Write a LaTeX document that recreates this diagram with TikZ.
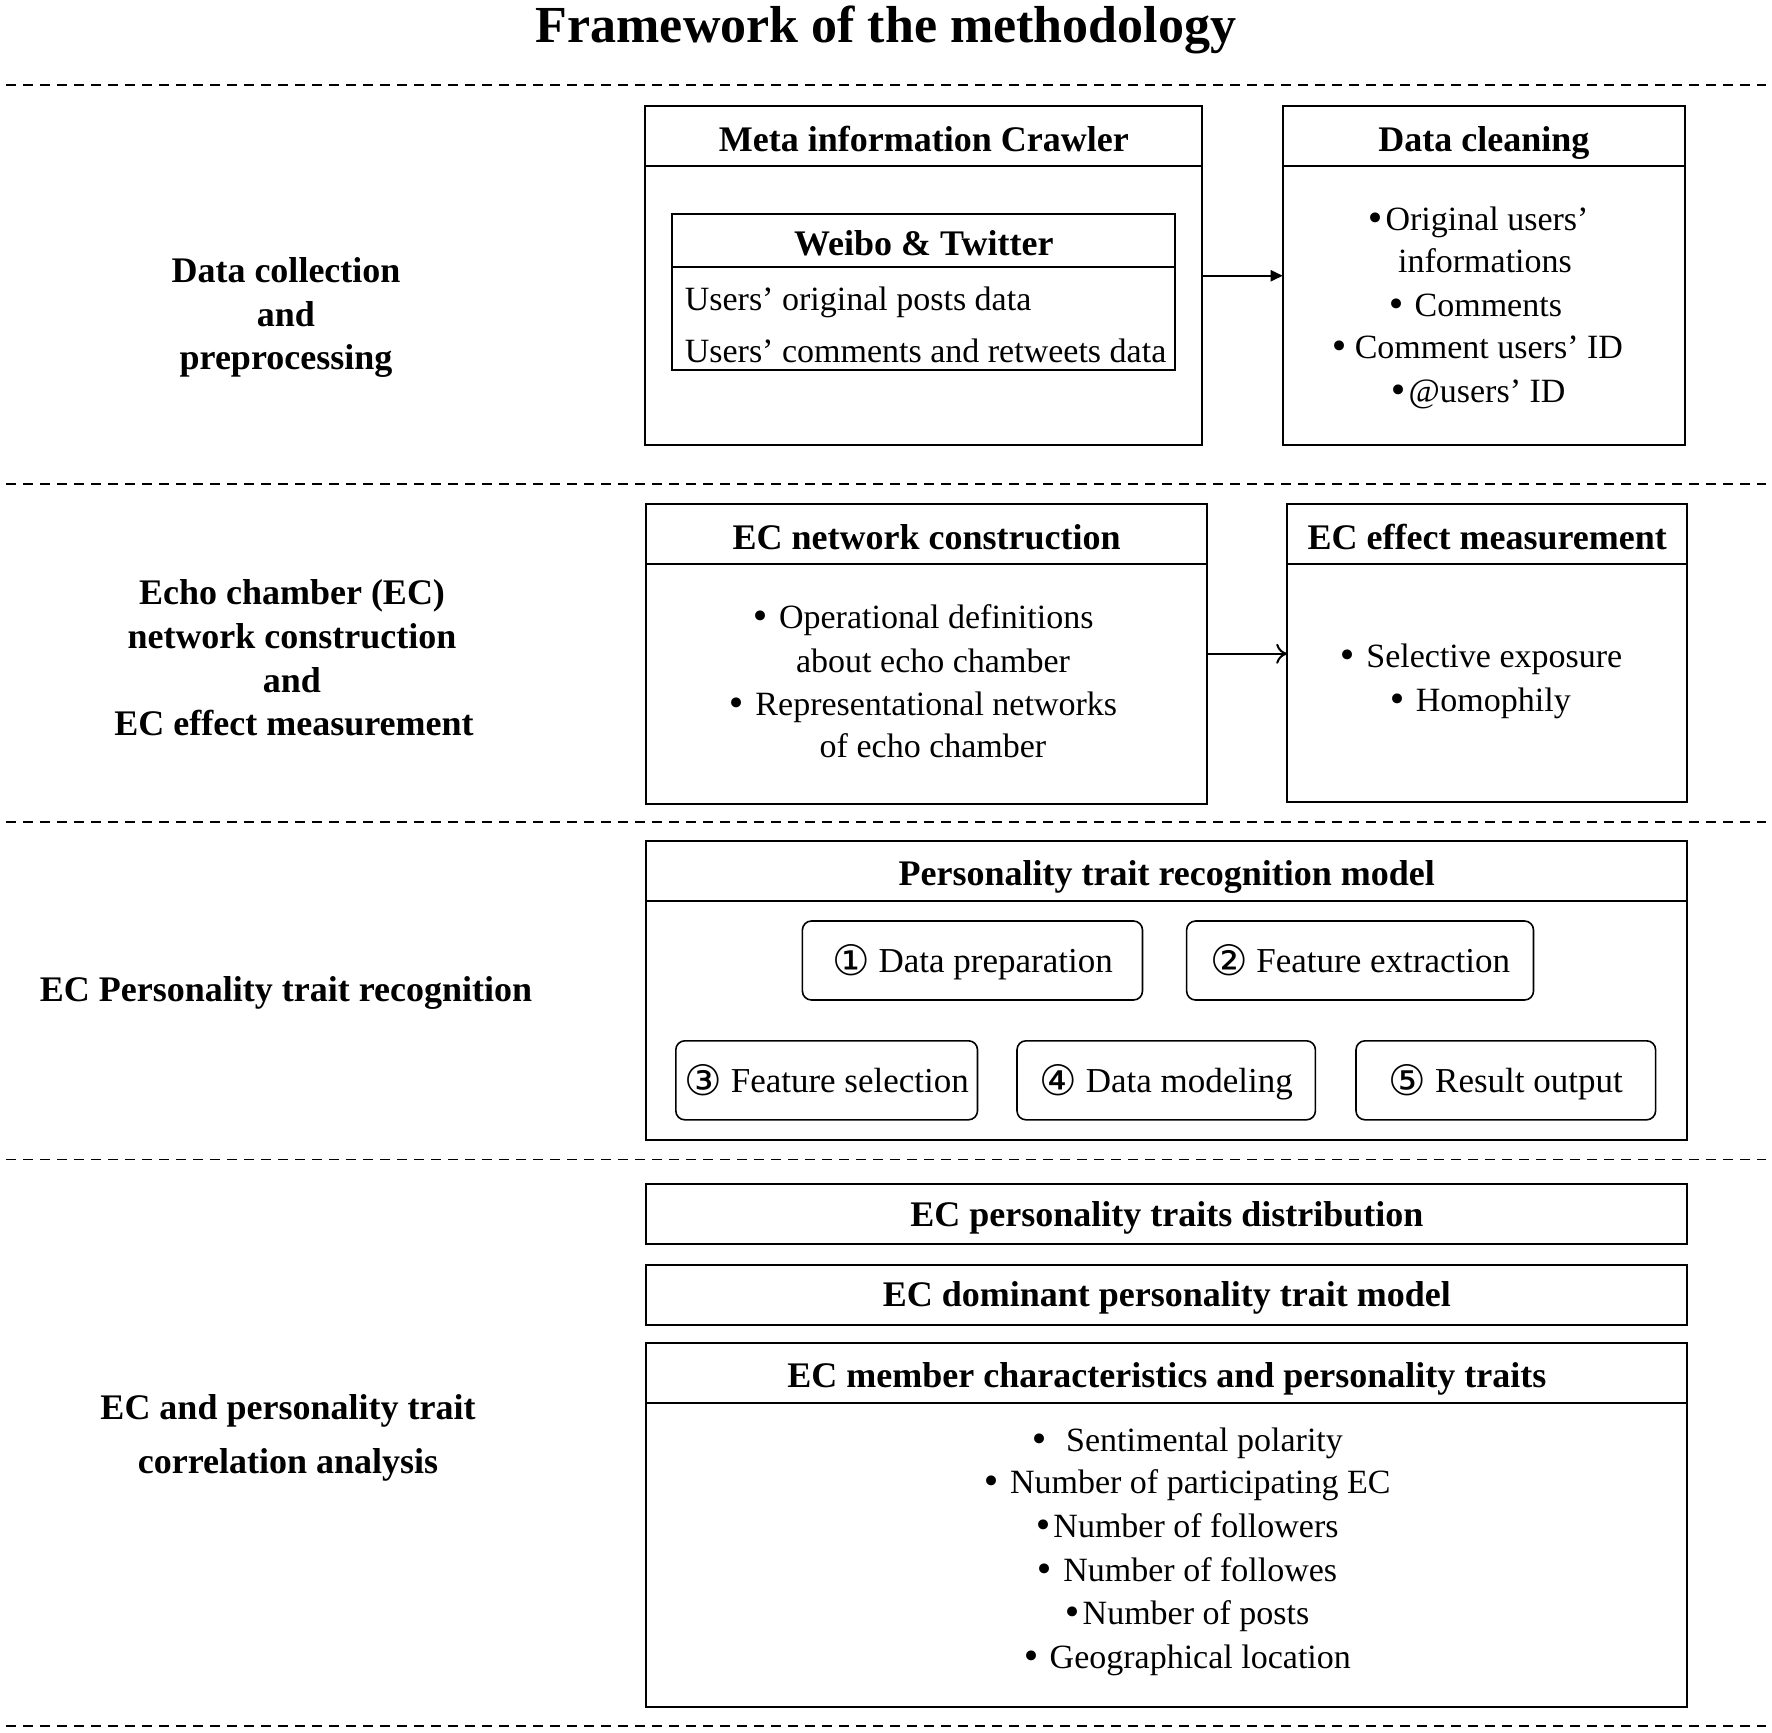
\documentclass[tikz,border=0pt]{standalone}
\usepackage{fontspec}
\setmainfont{Liberation Serif}
\newfontfamily\circfont[Scale=1.2]{DejaVu Sans}
\newfontfamily\bulfont{DejaVu Sans}
\newcommand{\bul}{{\bulfont •}}
\newcommand{\cnum}[1]{\raisebox{-3pt}{\circfont #1}}
\usetikzlibrary{arrows.meta}
\begin{document}
\begin{tikzpicture}[x=1pt,y=-1pt,
  basic/.style={inner sep=0pt, outer sep=0pt, font=\fontsize{34}{40}\selectfont},
  ln/.style={basic, anchor=base},
  lnb/.style={ln, font=\fontsize{36}{42}\selectfont\bfseries},
  frame/.style={basic, draw, line width=2pt, anchor=north west},
  hdr/.style={frame, font=\fontsize{36}{42}\selectfont\bfseries, text height=26pt, text depth=2pt},
  hdrtop/.style={hdr, text height=32pt, text depth=2pt},
  stepbox/.style={basic, draw, line width=1.6pt, rounded corners=9pt, anchor=north west, text height=26pt, text depth=2pt, font=\fontsize{35}{40}\selectfont},
  sep/.style={line width=1.8pt, dash pattern=on 10pt off 7pt},
  conn/.style={line width=2pt}
]
\useasboundingbox (0,0) rectangle (1772,1732);
\fill[white] (0,0) rectangle (1772,1732);

% title
\node[ln, font=\fontsize{52}{60}\selectfont\bfseries] (title) at (886,42) {Framework of the methodology};

% separators
\foreach \y [count=\i] in {84.8,483.7,821.6,1159.5,1725.7}{
  \coordinate (sl\i) at (6,\y);
  \coordinate (sr\i) at (1766,\y);
  \draw[sep] (sl\i) -- (sr\i);
}

% ---------- Section 1 ----------
\node[frame, minimum width=557.1pt, minimum height=339.1pt] (meta) at (645.3,106.2) {};
\node[hdrtop, minimum width=557.1pt, minimum height=59.9pt] (metah) at (meta.north west) {Meta information Crawler};
\node[frame, minimum width=502.9pt, minimum height=155.9pt] (wb) at (672.4,213.6) {};
\node[hdrtop, minimum width=502.9pt, minimum height=53.1pt] (wbh) at (wb.north west) {Weibo \& Twitter};
\node[ln, anchor=base west] (wb1) at (684.8,310.6) {Users’ original posts data};
\node[ln, anchor=base west] (wb2) at (684.8,362.6) {Users’ comments and retweets data};

\node[frame, minimum width=402.3pt, minimum height=339.1pt] (clean) at (1282.7,106.2) {};
\node[hdrtop, minimum width=402.3pt, minimum height=59.9pt] (cleanh) at (clean.north west) {Data cleaning};
\foreach \n/\x/\y/\t in {dc1/1477/230.4/{\bul Original users’},
                         dc2/1485/272.2/{informations},
                         dc3/1474/316.3/{\bul\ Comments},
                         dc4/1476/358.0/{\bul\,Comment users’ ID},
                         dc5/1477/402.0/{\bul @users’ ID}}{
  \node[ln] (\n) at (\x,\y) {\t};
}
\draw[conn, -{Triangle[length=12pt,width=11pt]}] (meta.east) -- (clean.west);

\node[lnb] (l1a) at (286,282) {Data collection};
\node[lnb] (l1b) at (286,326) {and};
\node[lnb] (l1c) at (286,369) {preprocessing};

% ---------- Section 2 ----------
\node[frame, minimum width=560.6pt, minimum height=299.5pt] (ecn) at (646.4,504) {};
\node[hdrtop, minimum width=560.6pt, minimum height=60pt] (ecnh) at (ecn.north west) {EC network construction};
\foreach \n/\x/\y/\t in {en1/922/628.2/{\bul\ Operational definitions},
                         en2/933/672.2/{about echo chamber},
                         en3/922/715.2/{\bul\ Representational networks},
                         en4/933/757.0/{of echo chamber}}{
  \node[ln] (\n) at (\x,\y) {\t};
}
\node[frame, minimum width=400pt, minimum height=298.4pt] (ece) at (1287.2,504) {};
\node[hdrtop, minimum width=400pt, minimum height=60pt] (eceh) at (ece.north west) {EC effect measurement};
\node[ln] (ee1) at (1480,667.7) {\bul\ Selective exposure};
\node[ln] (ee2) at (1479,711.8) {\bul\ Homophily};
\draw[conn, -{To[length=11pt,width=20pt]}] (ecn.east) -- (ecn.east -| ece.west);

\node[lnb] (l2a) at (292,604) {Echo chamber (EC)};
\node[lnb] (l2b) at (292,648) {network construction};
\node[lnb] (l2c) at (292,692.5) {and};
\node[lnb] (l2d) at (294,735) {EC effect measurement};

% ---------- Section 3 ----------
\node[frame, minimum width=1040.8pt, minimum height=299.5pt] (ptr) at (646.4,840.8) {};
\node[hdrtop, minimum width=1040.8pt, minimum height=59.9pt] (ptrh) at (ptr.north west) {Personality trait recognition model};
\node[stepbox, minimum width=340.1pt, minimum height=79pt] (st1) at (802.4,921) {\cnum{①} Data preparation};
\node[stepbox, minimum width=346.9pt, minimum height=79pt] (st2) at (1186.6,921) {\cnum{②} Feature extraction};
\node[stepbox, minimum width=301.7pt, minimum height=79pt] (st3) at (675.8,1040.8) {\cnum{③} Feature selection};
\node[stepbox, minimum width=298.4pt, minimum height=79pt] (st4) at (1017,1040.8) {\cnum{④} Data modeling};
\node[stepbox, minimum width=299.6pt, minimum height=79pt] (st5) at (1356,1040.8) {\cnum{⑤} Result output};

\node[lnb] (l3) at (286,1001) {EC Personality trait recognition};

% ---------- Section 4 ----------
\node[hdr, minimum width=1040.8pt, minimum height=59.9pt] (dist) at (646.4,1184.3) {EC personality traits distribution};
\node[hdr, minimum width=1040.8pt, minimum height=59.9pt] (dom) at (646.4,1264.6) {EC dominant personality trait model};
\node[frame, minimum width=1040.8pt, minimum height=363.9pt] (mem) at (646.4,1342.6) {};
\node[hdrtop, minimum width=1040.8pt, minimum height=59.9pt] (memh) at (mem.north west) {EC member characteristics and personality traits};
\foreach \n/\y/\t in {m1/1451.5/{\bul\enspace Sentimental polarity},
                      m2/1493.3/{\bul\ Number of participating EC},
                      m3/1537.3/{\bul Number of followers},
                      m4/1581.4/{\bul\ Number of followes},
                      m5/1624.4/{\bul Number of posts},
                      m6/1668.4/{\bul\ Geographical location}}{
  \node[ln] (\n) at (1186,\y) {\t};
}

\node[lnb] (l4a) at (288,1419) {EC and personality trait};
\node[lnb] (l4b) at (288,1473) {correlation analysis};
\end{tikzpicture}
\end{document}
